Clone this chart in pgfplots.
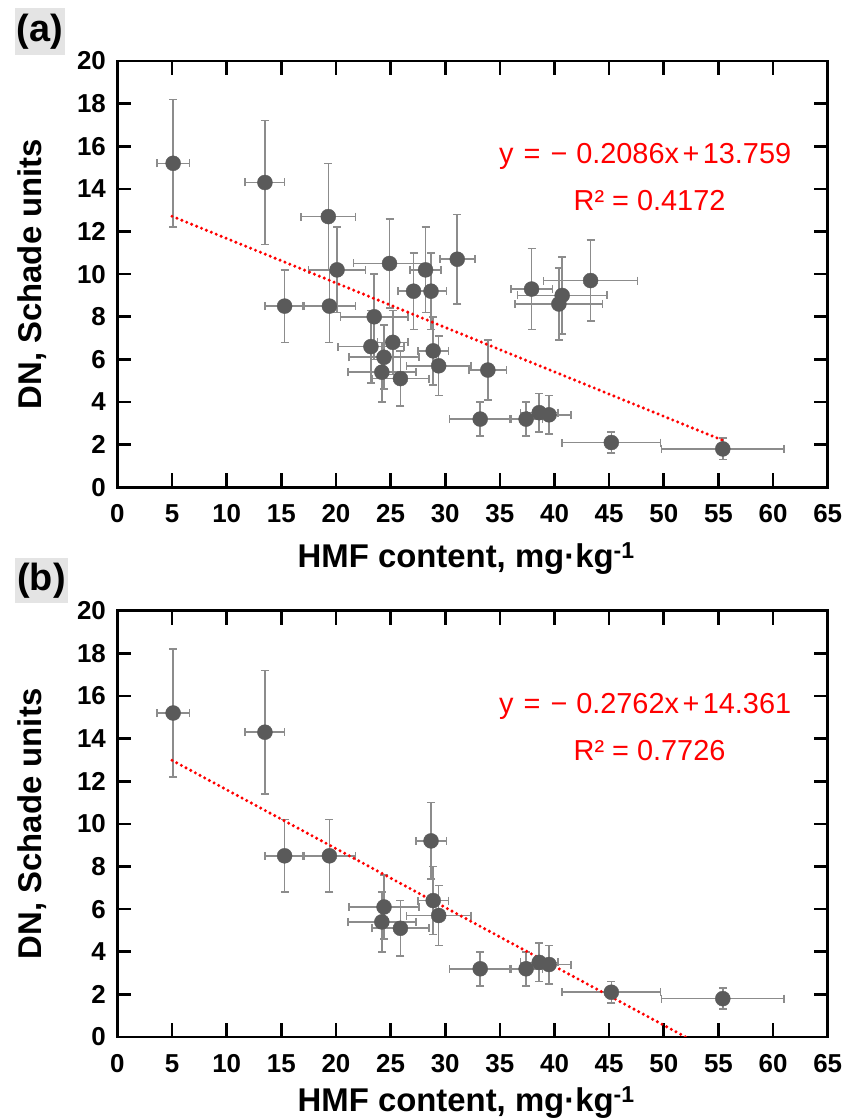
\documentclass[border=0pt]{standalone}
\usepackage{fontspec}
\setmainfont{Liberation Sans}
\usepackage{pgfplots}
\pgfplotsset{compat=1.18}
\usepackage{pgfplotstable}

\definecolor{markgray}{HTML}{5A5A5A}
\definecolor{bargray}{HTML}{8C8C8C}
\definecolor{labelgray}{HTML}{E4E4E4}

% all samples
\pgfplotstableread{
x    y    ex   ey
5.1  15.2 1.5  3.0
13.5 14.3 1.8  2.9
19.3 12.7 2.5  2.5
20.1 10.2 2.6  2.0
15.3 8.5  1.8  1.7
19.4 8.5  2.4  1.7
23.5 8.0  3.1  2.0
24.9 10.5 3.3  2.1
27.1 9.2  1.4  1.8
28.2 10.2 1.4  2.0
28.7 9.2  1.4  1.8
31.1 10.7 1.6  2.1
23.2 6.6  3.0  1.7
24.4 6.1  3.2  1.5
25.2 6.8  1.4  1.5
24.2 5.4  3.1  1.4
25.9 5.1  2.6  1.3
28.9 6.4  1.4  1.6
29.4 5.7  2.95 1.4
33.9 5.5  1.7  1.4
33.2 3.2  2.8  0.8
37.4 3.2  1.5  0.8
38.6 3.5  1.7  0.9
39.5 3.4  2.0  0.9
45.2 2.1  4.5  0.5
55.4 1.8  5.6  0.5
37.9 9.3  1.9  1.9
40.7 9.0  4.1  1.8
40.4 8.6  4.0  1.7
43.3 9.7  4.3  1.9
}\dataA

% selected samples
\pgfplotstableread{
x    y    ex   ey
5.1  15.2 1.5  3.0
13.5 14.3 1.8  2.9
15.3 8.5  1.8  1.7
19.4 8.5  2.4  1.7
28.7 9.2  1.4  1.8
24.4 6.1  3.2  1.5
24.2 5.4  3.1  1.4
25.9 5.1  2.6  1.3
28.9 6.4  1.4  1.6
29.4 5.7  2.95 1.4
33.2 3.2  2.8  0.8
37.4 3.2  1.5  0.8
38.6 3.5  1.7  0.9
39.5 3.4  2.0  0.9
45.2 2.1  4.5  0.5
55.4 1.8  5.6  0.5
}\dataB

\pgfplotsset{
  hmfaxis/.style={
    scale only axis, width=710.3bp, height=426.3bp,
    xmin=0, xmax=65, ymin=0, ymax=20,
    xtick={0,5,...,65}, ytick={0,2,...,20},
    minor tick num=0,
    tick align=inside, major tick length=14bp,
    axis line style={line width=2.6bp},
    major tick style={line width=2.6bp, black},
    /pgf/number format/assume math mode=true,
    ticklabel style={font=\fontsize{26}{26}\selectfont\bfseries},
    xticklabel style={yshift=-14bp},
    yticklabel style={xshift=-8bp},
    xlabel={HMF content, mg·kg\textsuperscript{-1}},
    ylabel={DN, Schade units},
    label style={font=\fontsize{33}{33}\selectfont\bfseries},
    xlabel style={at={(axis description cs:0.491,-0.187)}, anchor=base},
    ylabel style={at={(axis description cs:-0.1062,0.5)}, anchor=base},
  },
  pts/.style={only marks, mark=*, mark size=7.5bp,
    mark options={fill=markgray, draw=markgray}},
  bars/.style={draw=none, mark=none, forget plot,
    error bars/.cd, x dir=both, x explicit, y dir=both, y explicit,
    error bar style={draw=bargray, line width=1.6bp},
    error mark options={rotate=90, mark size=4bp, draw=bargray, line width=1.6bp}},
  trend/.style={red, line width=3.4bp, dash pattern=on 0bp off 5.3bp, line cap=round},
}
\tikzset{
  eq/.style={red, anchor=base, font=\fontsize{29}{29}\selectfont},
  panel/.style={fill=labelgray, inner sep=0pt, font=\fontsize{38}{38}\selectfont\bfseries},
}
\newcommand{\eqn}[2]{y\hspace{0.35em}=\hspace{0.35em}−\hspace{0.3em}#1x\hspace{0.12em}+\hspace{0.12em}#2}

\begin{document}
\begin{tikzpicture}
\useasboundingbox (0,0) rectangle (846bp,1119bp);

\begin{axis}[hmfaxis, at={(117.4bp,631.7bp)}, anchor=south west]
  \addplot [pts] table [x=x, y=y] {\dataA};
  \addplot [bars] table [x=x, y=y, x error=ex, y error=ey] {\dataA};
  \addplot [trend] coordinates {(5,12.716) (55.4,2.203)};
  \node [eq] at (axis cs:48.3,15.18) {\eqn{0.2086}{13.759}};
  \node [eq] at (axis cs:48.7,12.99) {R² = 0.4172};
\end{axis}

\begin{axis}[hmfaxis, at={(117.4bp,82bp)}, anchor=south west,
  xlabel style={at={(axis description cs:0.491,-0.174)}}]
  \addplot [pts] table [x=x, y=y] {\dataB};
  \addplot [bars] table [x=x, y=y, x error=ex, y error=ey] {\dataB};
  \addplot [trend] coordinates {(5,12.980) (52,0)};
  \node [eq] at (axis cs:48.3,15.18) {\eqn{0.2762}{14.361}};
  \node [eq] at (axis cs:48.7,12.99) {R² = 0.7726};
\end{axis}

\node [panel, minimum width=50bp, minimum height=47bp] at (40bp,1087.5bp) {(a)};
\node [panel, minimum width=53bp, minimum height=45bp] at (41.5bp,538.5bp) {(b)};
\end{tikzpicture}
\end{document}
